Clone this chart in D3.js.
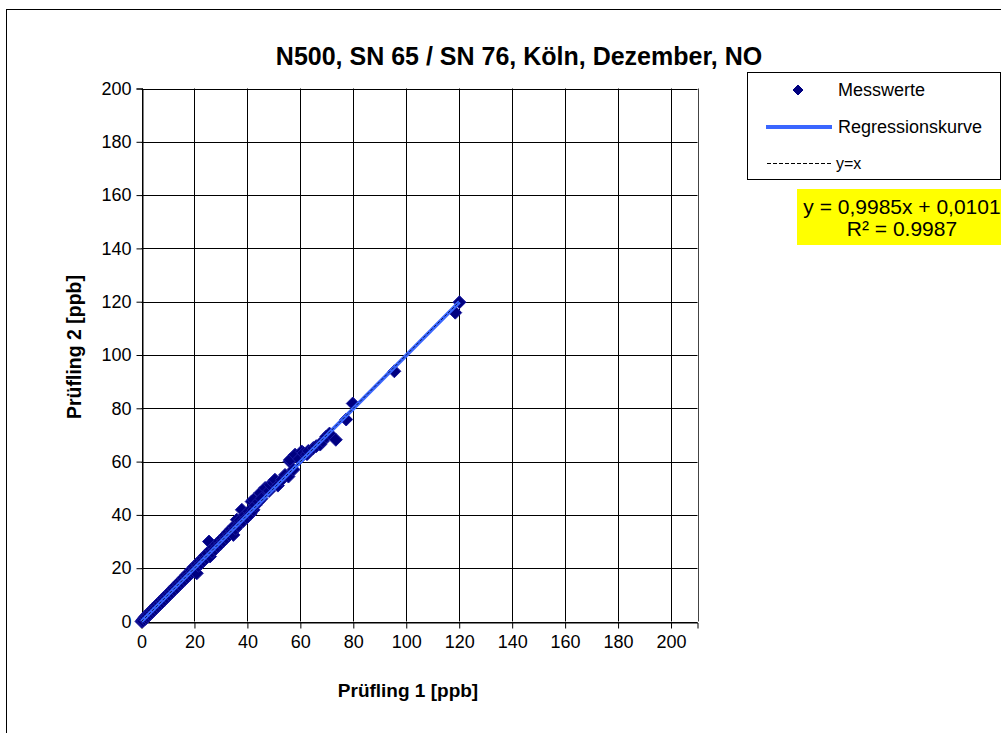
<!DOCTYPE html>
<html>
<head>
<meta charset="utf-8">
<script src="https://cdn.jsdelivr.net/npm/d3@7/dist/d3.min.js"></script>
<style>
  html, body { margin: 0; padding: 0; background: #fff; }
  svg { display: block; }
  text { font-family: "Liberation Sans", Arial, sans-serif; fill: #000; }
</style>
</head>
<body>
<svg id="chart" width="1001" height="733"></svg>
<script>
// Messwerte: Prüfling 1 (x) vs. Prüfling 2 (y), NO in ppb
const pruefling1 = [
  0, 0.3, 0.6, 0.9, 1.2, 1.5, 1.8, 2.1, 2.4, 2.8, 3.1, 3.5, 3.9, 4.2, 4.6, 5.0, 5.4, 5.8, 6.2, 6.6,
  7.0, 7.4, 7.9, 8.3, 8.7, 9.2, 9.6, 10.1, 10.5, 11.0, 11.5, 12.0, 12.4, 12.9, 13.4, 13.9, 14.4, 14.9, 15.3, 15.8,
  16.3, 16.8, 17.3, 17.8, 18.3, 18.8, 19.3, 19.8, 20.3, 20.9, 21.0, 21.5, 22.0, 22.5, 23.0, 23.5, 24.0, 24.5, 25.0, 25.5,
  25.9, 26.2, 26.7, 27.2, 27.8, 28.3, 28.8, 29.4, 29.9, 30.5, 31.0, 31.6, 32.1, 32.7, 33.2, 33.8, 34.3, 34.7, 34.9, 35.5,
  36.0, 36.6, 37.2, 37.9, 38.4, 39.1, 39.8, 40.5, 41.2, 41.6, 42.3, 42.3, 43.0, 44.2, 44.8, 45.3, 46.7, 48.2, 48.6, 49.8,
  50.4, 51.5, 53.0, 54.2, 55.5, 55.9, 56.1, 57.4, 58.0, 59.5, 60.5, 61.2, 62.5, 63.0, 64.9, 66.0, 67.5, 68.5, 69.8, 71.0,
  73.4, 77.3, 79.8, 95.5, 118.5, 120.1
];
const pruefling2 = [
  0, 0.5, 0.2, 1.2, 0.8, 1.9, 1.4, 2.4, 2.0, 3.1, 2.7, 3.9, 3.4, 4.6, 4.1, 5.4, 4.9, 6.3, 5.7, 7.1,
  6.6, 7.9, 7.3, 8.8, 8.2, 9.6, 9.1, 10.6, 10.0, 11.4, 11.0, 12.5, 11.9, 13.4, 12.8, 14.4, 13.9, 15.4, 14.8, 16.3,
  15.7, 17.4, 16.7, 18.3, 17.6, 19.4, 18.6, 20.5, 19.7, 18.1, 21.6, 20.9, 22.7, 21.8, 23.5, 22.9, 24.8, 23.8, 25.6, 30.0,
  24.4, 27.0, 26.1, 27.9, 27.1, 29.0, 28.2, 30.1, 29.2, 31.2, 30.3, 32.3, 31.4, 33.5, 32.5, 34.6, 33.6, 32.5, 35.7, 34.8,
  38.2, 36.0, 38.0, 41.9, 37.7, 40.0, 39.0, 41.3, 40.4, 45.0, 45.7, 41.9, 43.6, 45.0, 48.2, 46.1, 50.1, 49.0, 51.3, 52.0,
  53.2, 51.0, 53.2, 55.0, 54.4, 60.1, 60.7, 57.0, 62.6, 61.0, 63.8, 63.2, 62.8, 64.0, 65.1, 65.8, 66.4, 67.7, 69.4, 70.5,
  68.2, 75.8, 81.8, 93.9, 115.9, 119.8
];

// Achsen
const xTicks = [0, 20, 40, 60, 80, 100, 120, 140, 160, 180, 200];
const yTicks = [0, 20, 40, 60, 80, 100, 120, 140, 160, 180, 200];
const xMax = 210;
const yMax = 200;

// Regressionsgerade laut Trendlinien-Beschriftung
const slope = 0.9985;
const intercept = 0.0101;
const rSquared = 0.9987;

const titleText = "N500, SN 65 / SN 76, Köln, Dezember, NO";
const xTitle = "Prüfling 1 [ppb]";
const yTitle = "Prüfling 2 [ppb]";
const legendLabels = ["Messwerte", "Regressionskurve", "y=x"];
const equationLines = ["y = 0,9985x + 0,0101", "R² = 0.9987"];

const svg = d3.select("#chart");

const plot = { left: 141.5, right: 697.5, top: 88.5, bottom: 621.5 };
const x = d3.scaleLinear().domain([0, xMax]).range([plot.left, plot.right]);
const y = d3.scaleLinear().domain([0, yMax]).range([plot.bottom, plot.top]);

const MARKER = "#000080";
const MARKER_EDGE = "#1a1aa0";
const REG = "#3a66ff";

// Diagrammrahmen
svg.append("rect")
  .attr("x", 6.5).attr("y", 9.5)
  .attr("width", 1020).attr("height", 740)
  .attr("fill", "#fff").attr("stroke", "#000").attr("stroke-width", 1);

// Titel
svg.append("text")
  .attr("x", 519).attr("y", 65)
  .attr("text-anchor", "middle")
  .attr("font-size", 25).attr("font-weight", "bold")
  .text(titleText);

// Gitternetz
const grid = svg.append("g");
grid.selectAll("line.v").data(xTicks.concat([xMax])).join("line")
  .attr("x1", d => Math.round(x(d)) + 0.5).attr("x2", d => Math.round(x(d)) + 0.5)
  .attr("y1", y(yMax)).attr("y2", y(0))
  .attr("stroke", d => d === xMax ? "#444" : "#000").attr("stroke-width", 1);
grid.selectAll("line.h").data(yTicks).join("line")
  .attr("x1", x(0)).attr("x2", x(xMax))
  .attr("y1", d => Math.round(y(d)) + 0.5).attr("y2", d => Math.round(y(d)) + 0.5)
  .attr("stroke", "#000").attr("stroke-width", 1);

// Achsen
const xAxis = svg.append("g")
  .attr("transform", `translate(0,${Math.round(y(0)) + 0.5})`)
  .call(d3.axisBottom(x).tickValues(xTicks).tickSize(6).tickPadding(6).tickFormat(d3.format("d")));
const yAxis = svg.append("g")
  .attr("transform", `translate(${Math.round(x(0)) + 0.5},0)`)
  .call(d3.axisLeft(y).tickValues(yTicks).tickSize(6).tickPadding(5).tickFormat(d3.format("d")));
[xAxis, yAxis].forEach(a => {
  a.select(".domain").attr("stroke", "#000");
  a.selectAll(".tick line").attr("stroke", "#000");
  a.selectAll(".tick text")
    .attr("font-family", "Liberation Sans, Arial, sans-serif")
    .attr("font-size", 18).attr("fill", "#111");
});
xAxis.selectAll(".tick text").attr("dy", "0.75em");

// Achsentitel
svg.append("text")
  .attr("x", 408).attr("y", 697)
  .attr("text-anchor", "middle")
  .attr("font-size", 19).attr("font-weight", "bold")
  .text(xTitle);
svg.append("text")
  .attr("transform", "translate(81,347) rotate(-90)")
  .attr("text-anchor", "middle")
  .attr("font-size", 19.5).attr("font-weight", "bold")
  .text(yTitle);

// Messwerte als Rauten
const diamond = r => `M0,${-r}L${r},0L0,${r}L${-r},0Z`;
const points = pruefling1.map((v, i) => [v, pruefling2[i]]);
svg.append("g").selectAll("path").data(points).join("path")
  .attr("transform", d => `translate(${x(d[0])},${y(d[1])})`)
  .attr("d", diamond(6.5))
  .attr("fill", MARKER).attr("stroke", MARKER_EDGE).attr("stroke-width", 1);

// Regressionskurve
const xExtent = d3.extent(pruefling1);
svg.append("line")
  .attr("x1", x(xExtent[0])).attr("y1", y(slope * xExtent[0] + intercept))
  .attr("x2", x(xExtent[1])).attr("y2", y(slope * xExtent[1] + intercept))
  .attr("stroke", REG).attr("stroke-width", 3.8);

// y = x
svg.append("line")
  .attr("x1", x(0)).attr("y1", y(0))
  .attr("x2", x(xExtent[1])).attr("y2", y(xExtent[1]))
  .attr("stroke", "#000").attr("stroke-width", 1).attr("stroke-dasharray", "3,2")
  .attr("stroke-opacity", 0.75);

// Legende
const lg = svg.append("g");
lg.append("rect")
  .attr("x", 747.5).attr("y", 72.5).attr("width", 253).attr("height", 107)
  .attr("fill", "#fff").attr("stroke", "#000").attr("stroke-width", 1);
lg.append("path")
  .attr("transform", "translate(798,90)")
  .attr("d", diamond(5))
  .attr("fill", MARKER).attr("stroke", MARKER);
lg.append("line")
  .attr("x1", 766).attr("x2", 832).attr("y1", 127).attr("y2", 127)
  .attr("stroke", REG).attr("stroke-width", 4);
lg.append("line")
  .attr("x1", 767).attr("x2", 831).attr("y1", 163.5).attr("y2", 163.5)
  .attr("stroke", "#000").attr("stroke-width", 1).attr("stroke-dasharray", "4,2");
const legendY = [96, 133, 169];
lg.selectAll("text").data(legendLabels).join("text")
  .attr("x", (d, i) => i === 2 ? 836 : 838)
  .attr("y", (d, i) => legendY[i])
  .attr("font-size", (d, i) => i === 2 ? 16 : 18)
  .attr("fill", (d, i) => i === 2 ? "#333" : "#000")
  .text(d => d);

// Gleichung der Trendlinie
svg.append("rect")
  .attr("x", 797).attr("y", 189).attr("width", 210).attr("height", 56)
  .attr("fill", "#ffff00");
svg.selectAll("text.eq").data(equationLines).join("text")
  .attr("class", "eq")
  .attr("x", 902)
  .attr("y", (d, i) => 214 + i * 22)
  .attr("text-anchor", "middle")
  .attr("font-size", 21)
  .text(d => d);
</script>
</body>
</html>
